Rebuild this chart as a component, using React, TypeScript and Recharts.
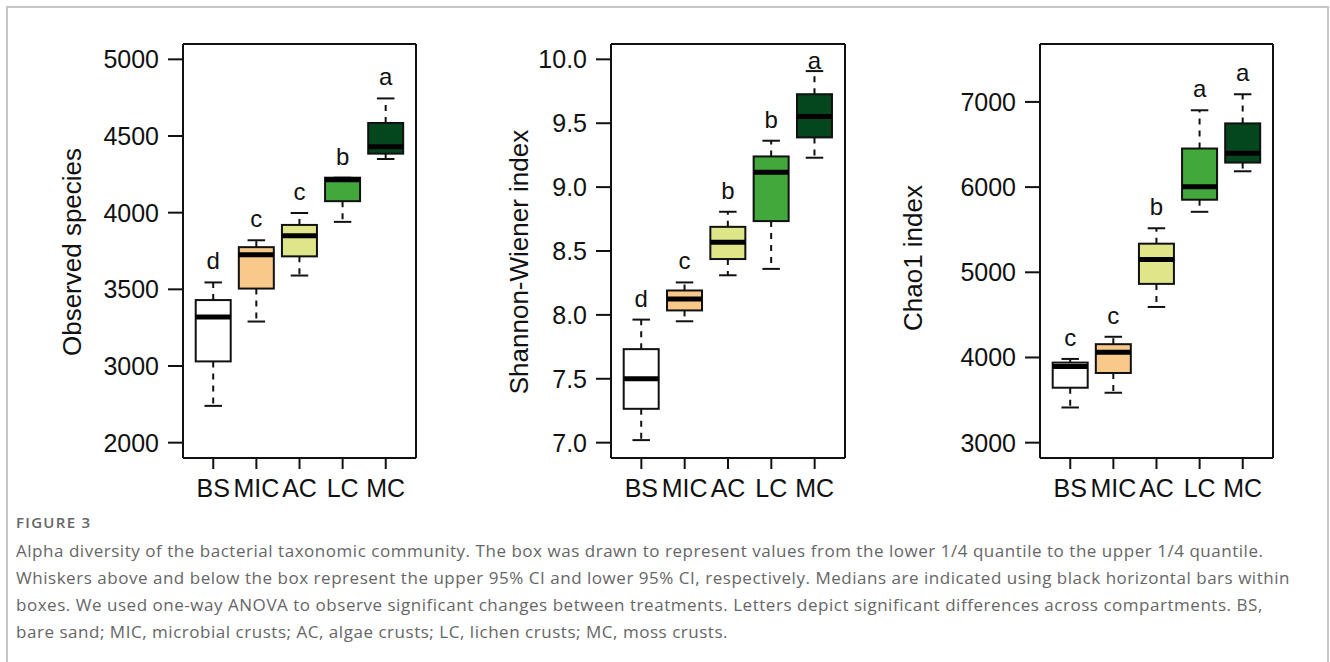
import React from 'react';
import { ComposedChart, Bar, XAxis, YAxis } from 'recharts';

const groups = ['BS', 'MIC', 'AC', 'LC', 'MC'];
const boxFills = ['#ffffff', '#f8c98a', '#dfe68a', '#43a83c', '#04471e'];

// Observed species
const obsLow = [2740, 3290, 3590, 3940, 4350];
const obsQ1 = [3030, 3505, 3715, 4075, 4385];
const obsMed = [3320, 3725, 3850, 4215, 4430];
const obsQ3 = [3430, 3775, 3920, 4228, 4585];
const obsHigh = [3545, 3820, 3998, 4228, 4745];
const obsLetters = ['d', 'c', 'c', 'b', 'a'];
const obsTicks = [2500, 3000, 3500, 4000, 4500, 5000];
const obsTickLabels = ['2000', '3000', '3500', '4000', '4500', '5000'];

// Shannon-Wiener index
const shLow = [7.02, 7.95, 8.31, 8.36, 9.23];
const shQ1 = [7.265, 8.035, 8.437, 8.734, 9.389];
const shMed = [7.5, 8.125, 8.568, 9.116, 9.552];
const shQ3 = [7.732, 8.191, 8.689, 9.24, 9.727];
const shHigh = [7.963, 8.254, 8.807, 9.363, 9.908];
const shLetters = ['d', 'c', 'b', 'b', 'a'];
const shTicks = [7, 7.5, 8, 8.5, 9, 9.5, 10];

// Chao1 index
const chLow = [3413, 3586, 4593, 5710, 6186];
const chQ1 = [3645, 3818, 4864, 5852, 6288];
const chMed = [3893, 4062, 5151, 6005, 6398];
const chQ3 = [3940, 4156, 5336, 6453, 6748];
const chHigh = [3983, 4243, 5517, 6902, 7090];
const chLetters = ['c', 'c', 'b', 'a', 'a'];
const chTicks = [3000, 4000, 5000, 6000, 7000];

const captionLines = [
  'Alpha diversity of the bacterial taxonomic community. The box was drawn to represent values from the lower 1/4 quantile to the upper 1/4 quantile.',
  'Whiskers above and below the box represent the upper 95% CI and lower 95% CI, respectively. Medians are indicated using black horizontal bars within',
  'boxes. We used one-way ANOVA to observe significant changes between treatments. Letters depict significant differences across compartments. BS,',
  'bare sand; MIC, microbial crusts; AC, algae crusts; LC, lichen crusts; MC, moss crusts.',
];

const ink = '#111111';
const plotFont = '"Liberation Sans", Arial, sans-serif';
const captionFont = '"Open Sans", "Noto Sans", sans-serif';

type Row = {
  group: string;
  low: number;
  q1: number;
  med: number;
  q3: number;
  high: number;
  letter: string;
  boxFill: string;
};

function buildRows(
  low: number[],
  q1: number[],
  med: number[],
  q3: number[],
  high: number[],
  letters: string[],
): Row[] {
  return groups.map((g, i) => ({
    group: g,
    low: low[i],
    q1: q1[i],
    med: med[i],
    q3: q3[i],
    high: high[i],
    letter: letters[i],
    boxFill: boxFills[i],
  }));
}

// the bar spans low..high, so its height gives the pixel scale for the rest of the box
function BoxShape(props: any) {
  const { x, y, width, height, payload, yMax } = props;
  if (!payload) return null;
  const top = Math.min(y, y + height);
  const bottom = Math.max(y, y + height);
  const span = payload.high - payload.low;
  const k = span > 0 ? (bottom - top) / span : 0;
  const toY = (v: number) => bottom - (v - payload.low) * k;
  const cx = x + width / 2;
  const cap = width / 4;
  const yLow = toY(payload.low);
  const yQ1 = toY(payload.q1);
  const yMed = toY(payload.med);
  const yQ3 = toY(payload.q3);
  const yHigh = toY(payload.high);
  // keep the letter inside the plot frame
  const letterY = Math.max(yHigh - 13, toY(yMax) + 25);

  return (
    <g>
      {yQ3 - yHigh > 1 && (
        <line x1={cx} x2={cx} y1={yQ3} y2={yHigh} stroke={ink} strokeWidth={2} strokeDasharray="6 6" />
      )}
      <line x1={cx} x2={cx} y1={yQ1} y2={yLow} stroke={ink} strokeWidth={2} strokeDasharray="6 6" />
      <line x1={cx - cap} x2={cx + cap} y1={yHigh} y2={yHigh} stroke={ink} strokeWidth={2} />
      <line x1={cx - cap} x2={cx + cap} y1={yLow} y2={yLow} stroke={ink} strokeWidth={2} />
      <rect x={x} y={yQ3} width={width} height={yQ1 - yQ3} fill={payload.boxFill} stroke={ink} strokeWidth={2} />
      <line x1={x} x2={x + width} y1={yMed} y2={yMed} stroke="#000" strokeWidth={5} />
      <text x={cx} y={letterY} textAnchor="middle" fontSize={24} fill={ink} fontFamily={plotFont}>
        {payload.letter}
      </text>
    </g>
  );
}

interface PanelProps {
  left: number;
  width: number;
  axisWidth: number;
  rightMargin: number;
  rows: Row[];
  domain: [number, number];
  ticks: number[];
  format: (v: number) => string;
  title: string;
  titleX: number;
  titleDy: number;
}

function Panel({ left, width, axisWidth, rightMargin, rows, domain, ticks, format, title, titleX, titleDy }: PanelProps) {
  const line = { stroke: ink, strokeWidth: 2 };
  const tickStyle = { fontSize: 25, fill: ink, fontFamily: plotFont };
  return (
    <div style={{ position: 'absolute', left, top: 0 }}>
      <ComposedChart width={width} height={520} data={rows} margin={{ top: 43, right: rightMargin - 1, bottom: 0, left: 0 }}>
        <XAxis
          xAxisId="bottom"
          dataKey="group"
          height={62}
          padding={{ left: 8.7, right: 8.7 }}
          tickSize={11}
          tickMargin={10}
          axisLine={line}
          tickLine={line}
          tick={tickStyle}
          interval={0}
        />
        {/* top and right axes only close the plot frame */}
        <XAxis
          xAxisId="top"
          dataKey="group"
          orientation="top"
          height={1}
          tick={false}
          tickLine={false}
          axisLine={line}
        />
        <YAxis
          yAxisId="left"
          type="number"
          domain={domain}
          ticks={ticks}
          tickFormatter={format}
          width={axisWidth}
          tickSize={15}
          tickMargin={9}
          axisLine={line}
          tickLine={line}
          tick={tickStyle}
          interval={0}
          label={{
            value: title,
            angle: -90,
            position: 'insideLeft',
            offset: titleX,
            dy: titleDy,
            style: { textAnchor: 'middle', fontSize: 26, fill: ink, fontFamily: plotFont },
          }}
        />
        <YAxis
          yAxisId="right"
          orientation="right"
          type="number"
          domain={[0, 1]}
          width={1}
          tick={false}
          tickLine={false}
          axisLine={line}
        />
        <Bar
          xAxisId="bottom"
          yAxisId="left"
          dataKey={(d: Row) => [d.low, d.high]}
          barSize={35}
          shape={(p: any) => <BoxShape {...p} yMax={domain[1]} />}
          isAnimationActive={false}
        />
      </ComposedChart>
    </div>
  );
}

export default function App() {
  const obsRows = buildRows(obsLow, obsQ1, obsMed, obsQ3, obsHigh, obsLetters);
  const shRows = buildRows(shLow, shQ1, shMed, shQ3, shHigh, shLetters);
  const chRows = buildRows(chLow, chQ1, chMed, chQ3, chHigh, chLetters);

  return (
    <div
      style={{
        position: 'absolute',
        left: 0,
        top: 0,
        width: 1330,
        height: 662,
        overflow: 'hidden',
        background: '#fff',
      }}
    >
      <div
        style={{
          position: 'absolute',
          left: 6,
          top: 6,
          width: 1323,
          height: 720,
          boxSizing: 'border-box',
          border: '2px solid #c6c6c6',
        }}
      />
      <Panel
        left={0}
        width={440}
        axisWidth={183}
        rightMargin={24}
        rows={obsRows}
        domain={[2400, 5100]}
        ticks={obsTicks}
        format={(v) => obsTickLabels[obsTicks.indexOf(v)] ?? String(v)}
        title="Observed species"
        titleX={72}
        titleDy={1}
      />
      <Panel
        left={440}
        width={440}
        axisWidth={171}
        rightMargin={35}
        rows={shRows}
        domain={[6.88, 10.12]}
        ticks={shTicks}
        format={(v) => v.toFixed(1)}
        title="Shannon-Wiener index"
        titleX={79}
        titleDy={11}
      />
      <Panel
        left={880}
        width={450}
        axisWidth={160}
        rightMargin={57}
        rows={chRows}
        domain={[2820, 7680]}
        ticks={chTicks}
        format={(v) => String(v)}
        title="Chao1 index"
        titleX={33}
        titleDy={7}
      />
      <div
        style={{
          position: 'absolute',
          left: 16,
          top: 512,
          fontFamily: captionFont,
          fontSize: 15,
          fontWeight: 600,
          color: '#666',
          letterSpacing: 1.3,
        }}
      >
        FIGURE 3
      </div>
      <div
        style={{
          position: 'absolute',
          left: 16,
          top: 537,
          fontFamily: captionFont,
          fontSize: 17,
          lineHeight: '27px',
          letterSpacing: 0.53,
          color: '#666',
          whiteSpace: 'nowrap',
        }}
      >
        {captionLines.map((t) => (
          <div key={t}>{t}</div>
        ))}
      </div>
    </div>
  );
}
